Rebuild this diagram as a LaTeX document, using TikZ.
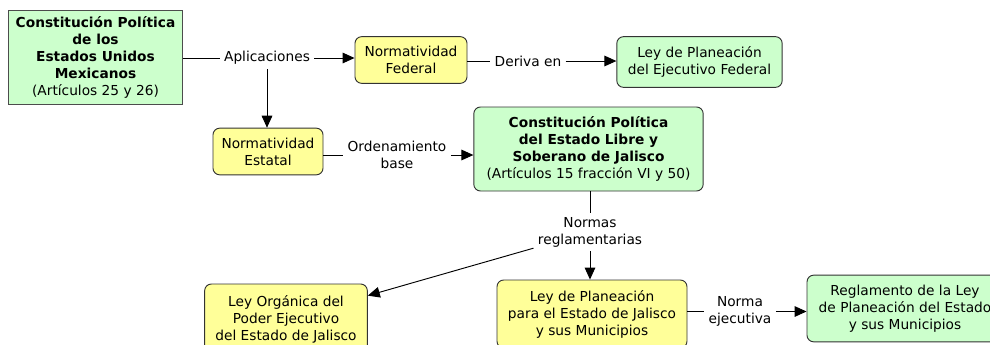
\documentclass[tikz,border=0pt]{standalone}
\usepackage{fontspec}
\setmainfont{DejaVu Sans}
\usepackage{xcolor}
\usetikzlibrary{arrows.meta}

\definecolor{cgreen}{RGB}{204,255,204}
\definecolor{cyellow}{RGB}{255,255,153}

\begin{document}
\begin{tikzpicture}[x=0.75pt, y=-0.75pt,
    font=\fontsize{10.3pt}{12.8pt}\selectfont,
    box/.style={draw=black!80, align=center, inner sep=2pt, rounded corners=5pt},
    gbox/.style={box, fill=cgreen},
    ybox/.style={box, fill=cyellow},
    lbl/.style={align=center, inner sep=3pt},
    arr/.style={-{Triangle[length=9pt,width=8pt]}},
    every path/.style={line width=0.7pt}]
    \useasboundingbox (0,0) rectangle (990,344);
    % first row
    \node[gbox, rounded corners=0pt, draw=black!70, minimum width=131pt, minimum height=70.5pt] (cpf) at (95.5,57.5)
      {\bfseries Constitución Política\\ \bfseries de los\\ \bfseries Estados Unidos\\ \bfseries Mexicanos\\ (Artículos 25 y 26)};
    \node[lbl] (apl) at (267,58) {Aplicaciones};
    \node[ybox, minimum width=84pt, minimum height=35pt] (nfe) at (411,60) {Normatividad\\ Federal};
    \node[lbl] (der) at (528,61) {Deriva en};
    \node[gbox, minimum width=124pt, minimum height=38pt] (lpf) at (699.5,62) {Ley de Planeación\\ del Ejecutivo Federal};
    % second row
    \node[ybox, minimum width=82.5pt, minimum height=35pt] (nes) at (268,151.5) {Normatividad\\ Estatal};
    \node[lbl] (ord) at (397,155) {Ordenamiento\\ base};
    \node[gbox, minimum width=172pt, minimum height=63pt] (cpj) at (588.5,149)
      {\bfseries Constitución Política\\ \bfseries del Estado Libre y\\ \bfseries Soberano de Jalisco\\ (Artículos 15 fracción VI y 50)};
    \node[lbl] (nrm) at (590,232) {Normas\\ reglamentarias};
    % third row
    \node[ybox, minimum width=122pt, minimum height=52.5pt] (loe) at (286,319) {Ley Orgánica del\\ Poder Ejecutivo\\ del Estado de Jalisco};
    \node[ybox, minimum width=142.5pt, minimum height=51pt] (lpj) at (592,314) {Ley de Planeación\\ para el Estado de Jalisco\\ y sus Municipios};
    \node[lbl] (nej) at (740,311.5) {Norma\\ ejecutiva};
    \node[gbox, minimum width=147pt, minimum height=50pt] (rlp) at (905,308.5) {Reglamento de la Ley\\ de Planeación del Estado\\ y sus Municipios};
    % links
    \draw (cpf.east |- apl) -- (apl);
    \draw[arr] (apl) -- (apl -| nfe.west);
    \draw[arr] (apl) -- (apl |- nes.north);
    \draw (nfe.east |- der) -- (der);
    \draw[arr] (der) -- (der -| lpf.west);
    \draw (nes.east |- ord) -- (ord);
    \draw[arr] (ord) -- (ord -| cpj.west);
    \draw (cpj.south -| nrm) -- (nrm);
    \draw[arr] (nrm) -- (loe);
    \draw[arr] (nrm) -- (nrm |- lpj.north);
    \draw (lpj.east |- nej) -- (nej);
    \draw[arr] (nej) -- (nej -| rlp.west);
\end{tikzpicture}
\end{document}
